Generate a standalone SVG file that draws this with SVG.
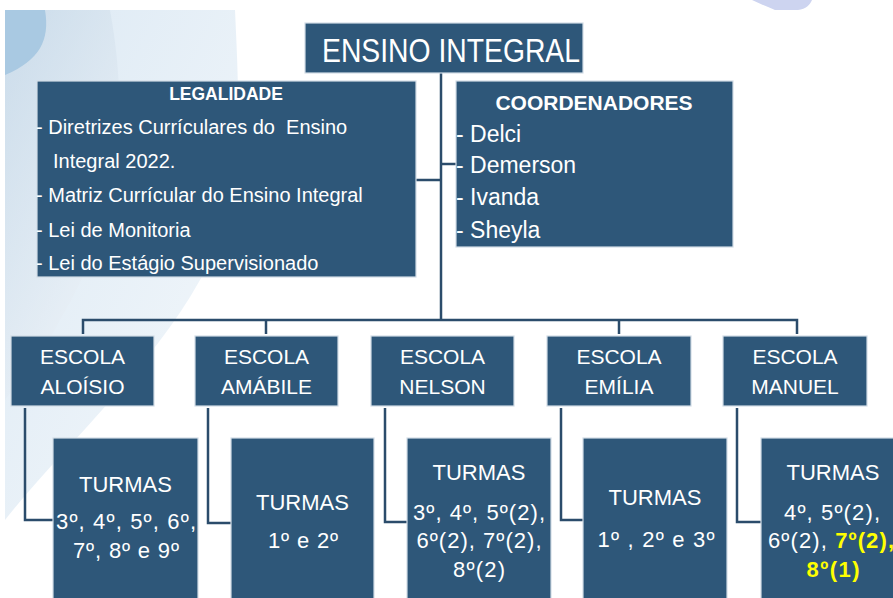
<svg xmlns="http://www.w3.org/2000/svg" width="893" height="598" viewBox="0 0 893 598">
<defs>
<linearGradient id="bgA" x1="0" y1="0" x2="1" y2="1">
<stop offset="0" stop-color="#dce9f4"/>
<stop offset="1" stop-color="#f4f8fb"/>
</linearGradient>
<linearGradient id="bgB" x1="0" y1="0" x2="0.6" y2="1">
<stop offset="0" stop-color="#c3d6e6"/>
<stop offset="1" stop-color="#eef3f8"/>
</linearGradient>
<style>
.box{fill:#2E5779;stroke:#d3dde7;stroke-width:1.2}
.t{font-family:"Liberation Sans",Arial,sans-serif;fill:#ffffff}
.c{text-anchor:middle}
.conn{fill:none;stroke:#2B4C6B;stroke-width:2.5}
.y{fill:#ffff00;font-weight:bold}
</style>
</defs>
<rect width="893" height="598" fill="#ffffff"/>
<g id="background">
<path d="M5,10 L235,10 C240,120 245,200 200,280 C150,370 60,450 5,520 Z" fill="url(#bgA)"/>
<path d="M5,10 L110,10 C130,120 120,220 60,320 C40,360 20,380 5,400 Z" fill="url(#bgB)" opacity="0.7"/>
<path d="M5,10 L45,10 C50,40 40,60 5,75 Z" fill="#a9c9e2"/>
<path d="M752,0 L812,0 C810,5 806,9 798,10 L775,10 C768,7 760,4 752,0 Z" fill="#cdd4f0"/>
</g>
<g id="connectors" class="conn">
<path d="M441,73 V320"/>
<path d="M416,180 H441"/>
<path d="M441,164 H456"/>
<path d="M83,334 V320 H797 V334"/>
<path d="M266,320 V334"/>
<path d="M619,320 V334"/>
<path d="M25,408 V520 H53"/>
<path d="M208,408 V523 H231"/>
<path d="M385,408 V522 H407"/>
<path d="M561,408 V520 H583"/>
<path d="M737,408 V522 H761"/>
</g>
<g id="title">
<rect class="box" x="305" y="23" width="278" height="50"/>
<text class="t c" x="451" y="62" font-size="34" textLength="258" lengthAdjust="spacingAndGlyphs">ENSINO INTEGRAL</text>
</g>
<g id="legalidade">
<rect class="box" x="37" y="81" width="379" height="196"/>
<text class="t c" x="226" y="100" font-size="17.5" font-weight="bold">LEGALIDADE</text>
<text class="t" x="36" y="134" font-size="20" xml:space="preserve">- Diretrizes Currículares do  Ensino</text>
<text class="t" x="53" y="168" font-size="20">Integral 2022.</text>
<text class="t" x="36" y="202" font-size="20">- Matriz Currícular do Ensino Integral</text>
<text class="t" x="36" y="237" font-size="20">- Lei de Monitoria</text>
<text class="t" x="36" y="270" font-size="20">- Lei do Estágio Supervisionado</text>
</g>
<g id="coordenadores">
<rect class="box" x="456" y="81" width="277" height="166"/>
<text class="t c" x="594" y="110" font-size="21" font-weight="bold">COORDENADORES</text>
<text class="t" x="456" y="142" font-size="23">- Delci</text>
<text class="t" x="456" y="173" font-size="23">- Demerson</text>
<text class="t" x="456" y="205" font-size="23">- Ivanda</text>
<text class="t" x="456" y="238" font-size="23">- Sheyla</text>
</g>
<g id="escola-aloisio">
<rect class="box" x="11" y="336" width="143" height="70"/>
<text class="t c" x="82.5" y="364" font-size="21">ESCOLA</text>
<text class="t c" x="82.5" y="394" font-size="21">ALOÍSIO</text>
</g>
<g id="escola-amabile">
<rect class="box" x="195" y="336" width="143" height="70"/>
<text class="t c" x="266.5" y="364" font-size="21">ESCOLA</text>
<text class="t c" x="266.5" y="394" font-size="21">AMÁBILE</text>
</g>
<g id="escola-nelson">
<rect class="box" x="371" y="336" width="143" height="70"/>
<text class="t c" x="442.5" y="364" font-size="21">ESCOLA</text>
<text class="t c" x="442.5" y="394" font-size="21">NELSON</text>
</g>
<g id="escola-emilia">
<rect class="box" x="547" y="336" width="144" height="70"/>
<text class="t c" x="619" y="364" font-size="21">ESCOLA</text>
<text class="t c" x="619" y="394" font-size="21">EMÍLIA</text>
</g>
<g id="escola-manuel">
<rect class="box" x="723" y="336" width="144" height="70"/>
<text class="t c" x="795" y="364" font-size="21">ESCOLA</text>
<text class="t c" x="795" y="394" font-size="21">MANUEL</text>
</g>
<g id="turmas-aloisio">
<rect class="box" x="53" y="438" width="145" height="162"/>
<text class="t c" x="125.5" y="492" font-size="22">TURMAS</text>
<text class="t c" x="126" y="529" font-size="22" textLength="140">3º, 4º, 5º, 6º,</text>
<text class="t c" x="126" y="558" font-size="22" textLength="106">7º, 8º e 9º</text>
</g>
<g id="turmas-amabile">
<rect class="box" x="231" y="438" width="143" height="162"/>
<text class="t c" x="302.5" y="510" font-size="22">TURMAS</text>
<text class="t c" x="303" y="548" font-size="22" textLength="70">1º e 2º</text>
</g>
<g id="turmas-nelson">
<rect class="box" x="407" y="438" width="144" height="162"/>
<text class="t c" x="479" y="480" font-size="22">TURMAS</text>
<text class="t c" x="479" y="520" font-size="22" textLength="132">3º, 4º, 5º(2),</text>
<text class="t c" x="479" y="548" font-size="22" textLength="125">6º(2), 7º(2),</text>
<text class="t c" x="479" y="577" font-size="22" textLength="52">8º(2)</text>
</g>
<g id="turmas-emilia">
<rect class="box" x="583" y="438" width="144" height="162"/>
<text class="t c" x="655" y="505" font-size="22">TURMAS</text>
<text class="t c" x="656" y="547" font-size="22" textLength="117">1º , 2º e 3º</text>
</g>
<g id="turmas-manuel">
<rect class="box" x="761" y="438" width="150" height="162"/>
<text class="t c" x="833" y="480" font-size="22">TURMAS</text>
<text class="t c" x="832" y="520" font-size="22" textLength="96">4º, 5º(2),</text>
<text class="t c" x="831" y="548" font-size="22" textLength="126">6º(2), <tspan class="y">7º(2),</tspan></text>
<text class="t c y" x="833" y="577" font-size="22" textLength="53">8º(1)</text>
</g>
</svg>
